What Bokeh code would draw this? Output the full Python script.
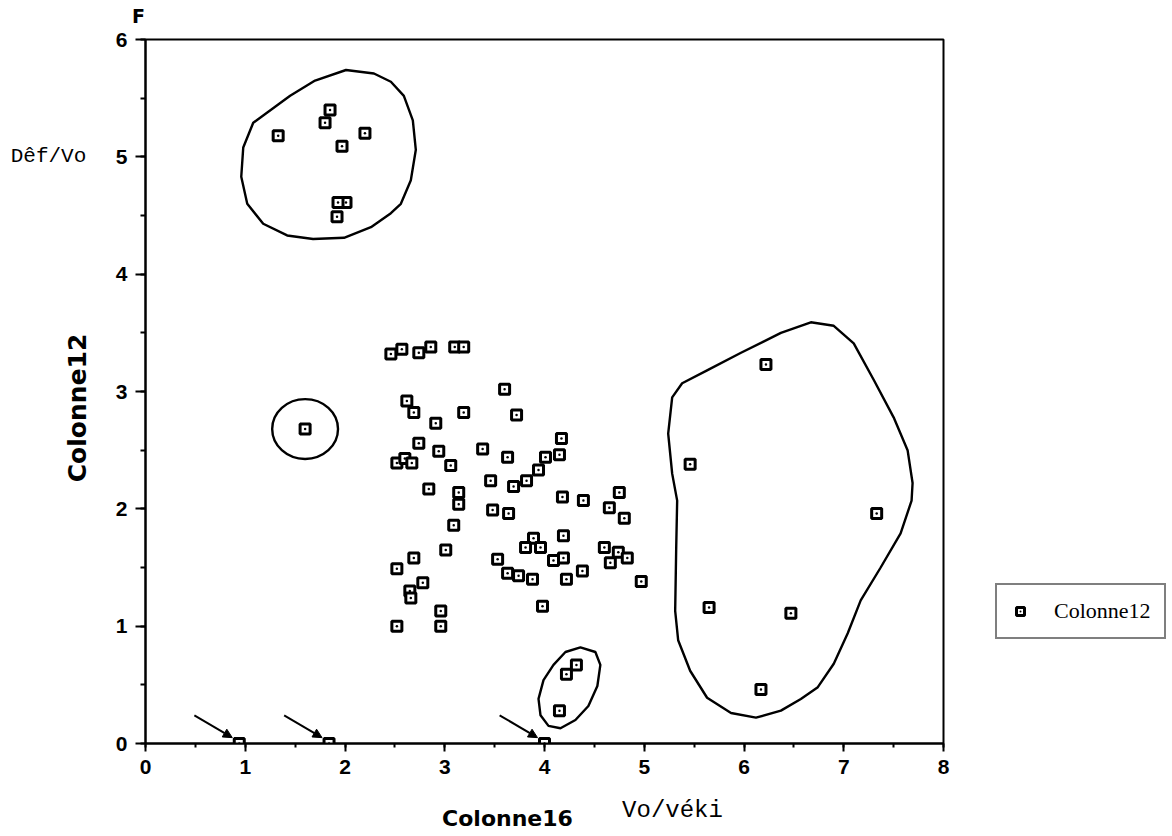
from math import pi
from bokeh.plotting import figure
from bokeh.layouts import column, row
from bokeh.models import (Range1d, SingleIntervalTicker, Legend, LegendItem,
                          Arrow, NormalHead)
from bokeh.core.properties import value
from bokeh.embed import file_html
from bokeh.resources import INLINE

# ---------------- data ----------------
# Colonne16 (Vo/véki) on x, Colonne12 (Déf/Vo) on y
colonne16 = [
    # main central cloud
    2.46, 2.57, 2.74, 2.86, 3.10, 3.19, 3.60, 2.62, 2.69, 3.19, 3.72, 2.91, 4.17, 2.74,
    4.15, 2.52, 2.60, 2.67, 2.94, 3.38, 3.63, 4.01, 3.06, 3.94, 3.46, 3.82, 3.69, 2.84,
    3.14, 4.18, 4.39, 4.75, 4.65, 4.80, 3.14, 3.48, 3.64, 3.09, 4.19, 3.89, 3.81, 3.96,
    3.01, 4.60, 4.74, 4.83, 4.66, 2.69, 3.53, 4.19, 4.09, 2.52, 3.63, 3.74, 3.88, 4.22,
    4.38, 4.97, 2.78, 2.65, 2.66, 3.98, 2.96, 2.52, 2.96,
    # small low group
    4.32, 4.22, 4.15,
    # upper-left group
    1.85, 1.80, 1.33, 2.20, 1.97, 2.01, 1.93, 1.92,
    # isolated point
    1.60,
    # right group
    6.22, 5.46, 7.33, 5.65, 6.47, 6.17,
    # points on the axis
    0.94, 1.84, 4.00,
]
colonne12 = [
    3.32, 3.36, 3.33, 3.38, 3.38, 3.38, 3.02, 2.92, 2.82, 2.82, 2.80, 2.73, 2.60, 2.56,
    2.46, 2.39, 2.43, 2.39, 2.49, 2.51, 2.44, 2.44, 2.37, 2.33, 2.24, 2.24, 2.19, 2.17,
    2.14, 2.10, 2.07, 2.14, 2.01, 1.92, 2.04, 1.99, 1.96, 1.86, 1.77, 1.75, 1.67, 1.67,
    1.65, 1.67, 1.63, 1.58, 1.54, 1.58, 1.57, 1.58, 1.56, 1.49, 1.45, 1.43, 1.40, 1.40,
    1.47, 1.38, 1.37, 1.30, 1.24, 1.17, 1.13, 1.00, 1.00,
    0.67, 0.59, 0.28,
    5.40, 5.29, 5.18, 5.20, 5.09, 4.61, 4.61, 4.49,
    2.68,
    3.23, 2.38, 1.96, 1.16, 1.11, 0.46,
    0.00, 0.00, 0.00,
]
series_name = "Colonne12"
x_label = "Colonne16"
y_label = "Colonne12"
x_unit_label = "Vo/véki"
y_unit_label = "Dêf/Vo"
corner_label = "F"
x_span = (0, 8)
y_span = (0, 6)

# hand-drawn outlines around groups (annotation shapes, data coordinates)
outline_upper_x = [1.45, 1.08, 0.98, 0.96, 1.02, 1.18, 1.42, 1.68, 1.99, 2.26, 2.46, 2.56,
                   2.66, 2.71, 2.68, 2.59, 2.46, 2.29, 2.01, 1.70]
outline_upper_y = [5.52, 5.29, 5.08, 4.83, 4.60, 4.43, 4.33, 4.30, 4.31, 4.40, 4.52, 4.60,
                   4.80, 5.06, 5.31, 5.52, 5.64, 5.71, 5.74, 5.65]
outline_low_x = [4.36, 4.51, 4.56, 4.53, 4.44, 4.31, 4.16, 4.04, 3.96, 3.94, 3.99, 4.09, 4.21]
outline_low_y = [0.82, 0.78, 0.67, 0.49, 0.32, 0.20, 0.13, 0.15, 0.24, 0.38, 0.54, 0.67, 0.78]
outline_right_x = [6.67, 6.90, 7.10, 7.30, 7.50, 7.64, 7.69, 7.68, 7.57, 7.37, 7.17, 7.04,
                   6.90, 6.74, 6.57, 6.37, 6.12, 5.87, 5.63, 5.46, 5.34, 5.31, 5.32, 5.33,
                   5.28, 5.24, 5.28, 5.38, 5.63, 5.97, 6.37]
outline_right_y = [3.59, 3.56, 3.41, 3.10, 2.78, 2.50, 2.22, 2.07, 1.79, 1.50, 1.22, 0.94,
                   0.68, 0.48, 0.38, 0.28, 0.22, 0.26, 0.39, 0.62, 0.88, 1.13, 1.65, 2.07,
                   2.30, 2.64, 2.95, 3.07, 3.18, 3.33, 3.50]
circle_single = (1.60, 2.68, 0.66, 0.51)   # centre x, centre y, width, height

# ---------------- layout geometry (px) ----------------
TOP_H, BOTTOM_H = 27, 37
LEFT_W, RIGHT_W = 110, 215
B_TOP, B_BOTTOM, B_LEFT, B_RIGHT = 12, 52, 35, 10
FRAME_W, FRAME_H = 798, 704
MAIN_W = B_LEFT + FRAME_W + B_RIGHT
MAIN_H = B_TOP + FRAME_H + B_BOTTOM
TOTAL_W = LEFT_W + MAIN_W + RIGHT_W


def strip(width, height, xr, yr, top=0, bottom=0):
    f = figure(width=width, height=height, x_range=Range1d(*xr), y_range=Range1d(*yr),
               x_axis_type=None, y_axis_type=None, output_backend="svg",
               toolbar_location=None, min_border_left=0, min_border_right=0,
               min_border_top=top, min_border_bottom=bottom)
    f.grid.visible = False
    f.outline_line_color = None
    f.background_fill_color = "white"
    f.border_fill_color = "white"
    return f


# ---------------- main figure ----------------
p = figure(width=MAIN_W, height=MAIN_H,
           x_range=Range1d(*x_span), y_range=Range1d(*y_span),
           output_backend="svg", toolbar_location=None,
           min_border_left=B_LEFT, min_border_right=B_RIGHT,
           min_border_top=B_TOP, min_border_bottom=B_BOTTOM)
p.grid.visible = False
p.outline_line_color = "black"
p.outline_line_width = 2
p.background_fill_color = "white"
p.border_fill_color = "white"

tick_font = "Liberation Sans"
for ax, out_major, out_minor in ((p.xaxis[0], 8, 4), (p.yaxis[0], 10, 5)):
    ax.ticker = SingleIntervalTicker(interval=1, num_minor_ticks=2)
    ax.axis_line_width = 2
    ax.axis_line_color = "black"
    ax.major_tick_line_width = 2
    ax.minor_tick_line_width = 2
    ax.major_tick_line_color = "black"
    ax.minor_tick_line_color = "black"
    ax.major_tick_in = 0
    ax.minor_tick_in = 0
    ax.major_tick_out = out_major
    ax.minor_tick_out = out_minor
    ax.major_label_text_font = tick_font
    ax.major_label_text_font_style = "bold"
    ax.major_label_text_font_size = "21px"
    ax.major_label_text_color = "black"
p.xaxis[0].major_label_standoff = 8
p.yaxis[0].major_label_standoff = 8

# outlines
for ox, oy in ((outline_upper_x, outline_upper_y), (outline_low_x, outline_low_y),
               (outline_right_x, outline_right_y)):
    p.patch(ox, oy, fill_alpha=0, line_color="black", line_width=2.4)
cx, cy, cw, ch = circle_single
p.ellipse(x=[cx], y=[cy], width=cw, height=ch, fill_alpha=0,
          line_color="black", line_width=2.4)

# points
marker_style = dict(marker="square_dot", size=10, fill_color="white",
                    line_color="black", line_width=3)
r = p.scatter(colonne16, colonne12, **marker_style)

# arrows pointing at the points lying on the x axis
for xv, yv in zip(colonne16, colonne12):
    if yv == 0:
        p.add_layout(Arrow(end=NormalHead(size=9, fill_color="black", line_color="black"),
                           x_start=xv - 0.45, y_start=yv + 0.24,
                           x_end=xv - 0.07, y_end=yv + 0.05,
                           line_color="black", line_width=2))

# ---------------- text strips around the main figure ----------------
top = strip(TOTAL_W, TOP_H, (0, TOTAL_W), (0, TOP_H))
top.text(x=[138], y=[12], text=[corner_label], text_font=value("DejaVu Sans"),
         text_font_style="bold", text_font_size=value("19px"), text_align="center",
         text_baseline="middle", text_color="black")

left = strip(LEFT_W, MAIN_H, (0, LEFT_W), y_span, top=B_TOP, bottom=B_BOTTOM)
left.text(x=[48], y=[5.0], text=[y_unit_label], text_font=value("Liberation Mono"),
          text_font_size=value("21px"), text_align="center", text_baseline="middle",
          text_color="black")
left.text(x=[77], y=[2.86], text=[y_label], text_font=value("DejaVu Sans"),
          text_font_style="bold", text_font_size=value("25px"), text_align="center",
          text_baseline="middle", angle=pi / 2, text_color="black")

# right strip holds the legend: the same series drawn with the same marker style,
# but its ranges lie outside the data so only the legend entry shows
right = strip(RIGHT_W, MAIN_H, (100, 101), (100, 101), top=B_TOP, bottom=B_BOTTOM)
r_leg = right.scatter(colonne16, colonne12, **marker_style)
legend = Legend(items=[LegendItem(label=series_name, renderers=[r_leg])],
                location=(42, 104))
legend.border_line_color = "black"
legend.border_line_width = 2
legend.background_fill_color = "white"
legend.background_fill_alpha = 1
legend.padding = 13
legend.margin = 0
legend.spacing = 0
legend.label_standoff = 24
legend.glyph_width = 20
legend.glyph_height = 20
legend.label_text_font = "Liberation Serif"
legend.label_text_font_size = "22px"
legend.label_text_color = "black"
right.add_layout(legend)

bottom = strip(TOTAL_W, BOTTOM_H, (0, TOTAL_W), (0, BOTTOM_H))
bottom.text(x=[507], y=[14], text=[x_label], text_font=value("DejaVu Sans"),
            text_font_style="bold", text_font_size=value("22px"), text_align="center",
            text_baseline="middle", text_color="black")
bottom.text(x=[672], y=[22], text=[x_unit_label], text_font=value("Liberation Mono"),
            text_font_size=value("24px"), text_align="center", text_baseline="middle",
            text_color="black")

layout = column(top, row(left, p, right, spacing=0), bottom, spacing=0)

open("out.html", "w").write(file_html(layout, INLINE))
